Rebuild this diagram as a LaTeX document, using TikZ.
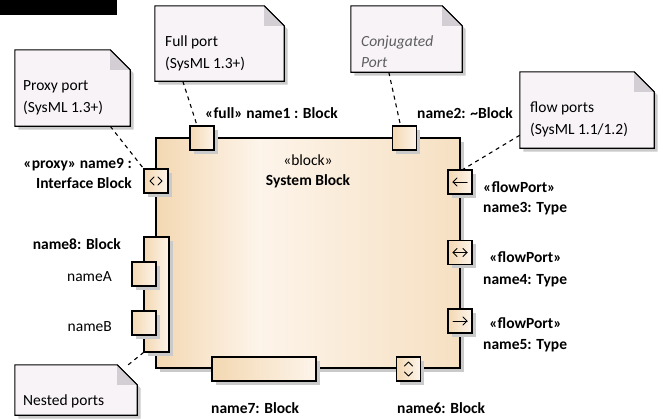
\documentclass[tikz,border=0pt]{standalone}
\usepackage{fontspec}
\setmainfont{Carlito}
\usetikzlibrary{shadows}
\definecolor{tanA}{HTML}{F3D8B2}
\definecolor{tanB}{HTML}{FDF4EA}
\definecolor{tanC}{HTML}{F6E0C2}
\definecolor{notefill}{HTML}{F7F3F7}
\definecolor{foldgray}{HTML}{D2CED3}
\definecolor{shadowgray}{HTML}{CACACA}
\definecolor{conjgray}{HTML}{5E5E5E}
\pgfdeclarehorizontalshading{blockshade}{100bp}{color(0bp)=(tanA); color(25bp)=(tanA); color(42bp)=(tanB); color(75bp)=(tanC); color(100bp)=(tanC)}
\pgfdeclarehorizontalshading{portshade}{100bp}{color(0bp)=(tanA); color(25bp)=(tanA); color(75bp)=(tanB); color(100bp)=(tanB)}
\newcommand\dognote[1]{%
  \draw[notepath] (#1.north west) -- ([xshift=-20pt]#1.north east) -- ([yshift=-20pt]#1.north east) -- (#1.south east) -- (#1.south west) -- cycle;
  \fill[foldgray] ([xshift=-20pt]#1.north east) -- ([yshift=-20pt]#1.north east) -- ([xshift=-20pt,yshift=-20pt]#1.north east) -- cycle;
  \draw[line width=1.1pt] ([xshift=-20pt]#1.north east) -- ([yshift=-20pt]#1.north east);}
\begin{document}
\begin{tikzpicture}[x=1pt,y=-1pt,
  fnt/.style={inner sep=0pt,font=\fontsize{15.5}{20}\selectfont},
  bl/.style={fnt,font=\fontsize{15.5}{20}\selectfont\bfseries},
  shd/.style={drop shadow={shadow xshift=3.5pt,shadow yshift=-3.5pt,fill=shadowgray,opacity=1}},
  portbox/.style={draw=black,line width=1.2pt,minimum width=24pt,minimum height=24pt,inner sep=0pt,shading=portshade,shd},
  blockbox/.style={draw=black,line width=1.2pt,inner sep=0pt,shading=blockshade,shd},
  notebox/.style={inner sep=0pt},
  notepath/.style={draw=black,line width=1.1pt,fill=notefill,shd},
  dashline/.style={line width=1.1pt,dash pattern=on 4pt off 4pt},
  sym/.style={line width=1pt,line cap=round,line join=round}]
\useasboundingbox (0,0) rectangle (663,418);
\fill[black] (0,0) rectangle (117,15);

% notes
\node[notebox,minimum width=115pt,minimum height=76pt] (nproxy) at (72.5,88) {};
\node[notebox,minimum width=129pt,minimum height=75pt] (nfull) at (219.5,43.5) {};
\node[notebox,minimum width=111pt,minimum height=66pt] (nconj) at (406.5,39) {};
\node[notebox,minimum width=134pt,minimum height=76pt] (nflow) at (587,110) {};
\node[notebox,minimum width=122pt,minimum height=50pt] (nnest) at (76,390) {};
\dognote{nproxy}
\dognote{nfull}
\dognote{nconj}
\dognote{nflow}
\dognote{nnest}
\node[fnt,anchor=base west] (tproxy1) at (23,90) {Proxy port};
\node[fnt,anchor=base west] (tproxy2) at (23,112) {(SysML 1.3+)};
\node[fnt,anchor=base west] (tfull1) at (165,46) {Full port};
\node[fnt,anchor=base west] (tfull2) at (165,68) {(SysML 1.3+)};
\node[fnt,anchor=base west,text=conjgray,font=\fontsize{15.5}{20}\selectfont\itshape] (tconj1) at (361,46) {Conjugated};
\node[fnt,anchor=base west,text=conjgray,font=\fontsize{15.5}{20}\selectfont\itshape] (tconj2) at (361,67) {Port};
\node[fnt,anchor=base west] (tflow1) at (530,112) {flow ports};
\node[fnt,anchor=base west] (tflow2) at (530,134) {(SysML 1.1/1.2)};
\node[fnt,anchor=base west] (tnest) at (23,405) {Nested ports};

% block
\node[blockbox,minimum width=304pt,minimum height=230pt] (blk) at (308,253) {};
\node[fnt,anchor=base] (stereo) at (308,165) {«block»};
\node[bl,anchor=base] (bname) at (308,185) {System Block};

% nested port
\node[portbox,minimum width=25pt,minimum height=115pt] (pnest) at (156.5,294.5) {};
\node[portbox] (pA) at (144,274) {};
\node[portbox] (pB) at (144,323) {};

% ports
\node[portbox] (pfull) at (202,138) {};
\node[portbox] (pconj) at (404.5,138) {};
\node[portbox] (pproxy) at (156,181) {};
\node[portbox] (pin) at (460,182) {};
\node[portbox] (pinout) at (460,252.5) {};
\node[portbox] (pout) at (460,321) {};
\node[portbox,minimum width=104pt] (p7) at (264,369) {};
\node[portbox] (p6) at (408.5,369) {};

% port symbols
\draw[sym] ([shift={(-2pt,4pt)}]pproxy.center) -- ([shift={(-6pt,0pt)}]pproxy.center) -- ([shift={(-2pt,-4pt)}]pproxy.center);
\draw[sym] ([shift={(2pt,4pt)}]pproxy.center) -- ([shift={(6pt,0pt)}]pproxy.center) -- ([shift={(2pt,-4pt)}]pproxy.center);
\draw[sym] ([xshift=7pt]pin.center) -- ([xshift=-7pt]pin.center);
\draw[sym] ([shift={(-3pt,4pt)}]pin.center) -- ([xshift=-7pt]pin.center) -- ([shift={(-3pt,-4pt)}]pin.center);
\draw[sym] ([xshift=7pt]pinout.center) -- ([xshift=-7pt]pinout.center);
\draw[sym] ([shift={(-3pt,4pt)}]pinout.center) -- ([xshift=-7pt]pinout.center) -- ([shift={(-3pt,-4pt)}]pinout.center);
\draw[sym] ([shift={(3pt,4pt)}]pinout.center) -- ([xshift=7pt]pinout.center) -- ([shift={(3pt,-4pt)}]pinout.center);
\draw[sym] ([xshift=7pt]pout.center) -- ([xshift=-7pt]pout.center);
\draw[sym] ([shift={(3pt,4pt)}]pout.center) -- ([xshift=7pt]pout.center) -- ([shift={(3pt,-4pt)}]pout.center);
\draw[sym] ([shift={(-4pt,3pt)}]p6.center) -- ([yshift=7pt]p6.center) -- ([shift={(4pt,3pt)}]p6.center);
\draw[sym] ([shift={(-4pt,-3pt)}]p6.center) -- ([yshift=-7pt]p6.center) -- ([shift={(4pt,-3pt)}]p6.center);

% labels
\node[bl,anchor=base west] (l1) at (205,118) {«full» name1 : Block};
\node[bl,anchor=base west] (l2) at (417,118) {name2: \textasciitilde Block};
\node[bl,anchor=base east] (l9a) at (132,168) {«proxy» name9 :};
\node[bl,anchor=base east] (l9b) at (132,188) {Interface Block};
\node[bl,anchor=base west] (l3a) at (483,192) {«flowPort»};
\node[bl,anchor=base west] (l3b) at (483,212) {name3: Type};
\node[bl,anchor=base] (l4a) at (525.5,262) {«flowPort»};
\node[bl,anchor=base west] (l4b) at (483,284) {name4: Type};
\node[bl,anchor=base] (l5a) at (525.5,328) {«flowPort»};
\node[bl,anchor=base west] (l5b) at (483,349) {name5: Type};
\node[bl,anchor=base east] (l8) at (121,249) {name8: Block};
\node[fnt,anchor=base east] (lA) at (112,281) {nameA};
\node[fnt,anchor=base east] (lB) at (112,331) {nameB};
\node[bl,anchor=base west] (l7) at (211,413) {name7: Block};
\node[bl,anchor=base west] (l6) at (397,413) {name6: Block};

% note connectors
\draw[dashline] ([xshift=-20pt]nproxy.south east) -- (pproxy.north west);
\draw[dashline] ([xshift=28pt]nfull.south west) -- ([xshift=-5pt]pfull.north);
\draw[dashline] ([xshift=38pt]nconj.south west) -- ([xshift=-4pt]pconj.north);
\draw[dashline] ([yshift=13pt]nflow.south west) -- ([xshift=3pt]pin.north);
\draw[dashline] ([xshift=-9pt]nnest.north east) -- (pnest.south west);
\end{tikzpicture}
\end{document}
